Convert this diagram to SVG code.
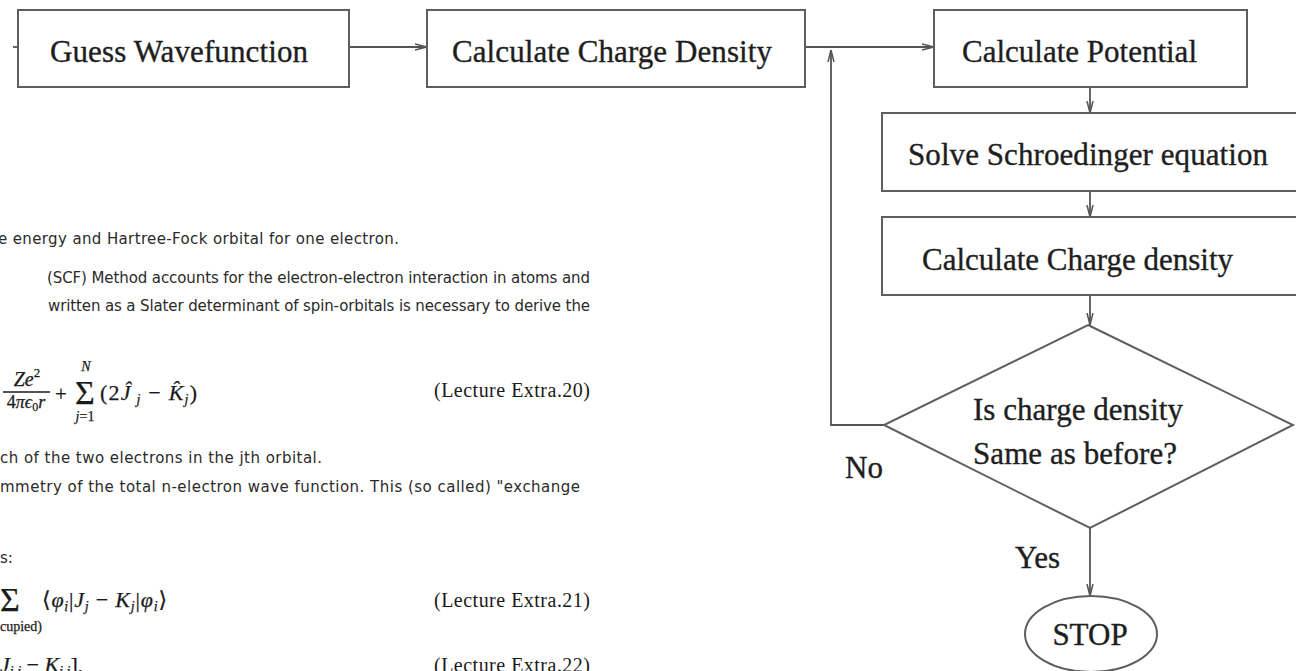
<svg xmlns="http://www.w3.org/2000/svg" width="1296" height="671" viewBox="0 0 1296 671">
  <defs>
    <style>
      .box { fill: #ffffff; stroke: #5e5e5e; stroke-width: 2; }
      .flow { font-family: "Liberation Serif", "Times New Roman", serif; font-size: 31px; fill: #1e1e1e; stroke: #1e1e1e; stroke-width: 0.35; }
      .link { fill: none; stroke: #555555; stroke-width: 1.8; }
      .prose { font-family: "DejaVu Sans", "Liberation Sans", sans-serif; font-size: 15px; fill: #2a2a2a; }
      .math { font-family: "Liberation Serif", "DejaVu Serif", serif; fill: #1a1a1a; stroke: #1a1a1a; stroke-width: 0.25; }
      .eqno { font-family: "Liberation Serif", "DejaVu Serif", serif; font-size: 20px; fill: #1a1a1a; }
      .it { font-style: italic; }
    </style>
    <marker id="open-arrow" viewBox="0 0 12 8" refX="12" refY="4" markerWidth="12" markerHeight="8" markerUnits="userSpaceOnUse" orient="auto">
      <path d="M0,1 L12,4 L0,7" fill="none" stroke="#555555" stroke-width="1.5"/>
    </marker>
  </defs>

  <rect width="1296" height="671" fill="#ffffff"/>

  <!-- body text of the page -->
  <g id="page-text">
    <text class="prose" x="-2" y="244" textLength="401" lengthAdjust="spacing">e energy and Hartree-Fock orbital for one electron.</text>
    <text class="prose" x="47" y="283" textLength="543" lengthAdjust="spacing">(SCF) Method accounts for the electron-electron interaction in atoms and</text>
    <text class="prose" x="48" y="311" textLength="542" lengthAdjust="spacing">written as a Slater determinant of spin-orbitals is necessary to derive the</text>
    <text class="prose" x="0" y="463" textLength="322" lengthAdjust="spacing">ch of the two electrons in the jth orbital.</text>
    <text class="prose" x="0" y="492" textLength="580" lengthAdjust="spacing">mmetry of the total n-electron wave function. This (so called) "exchange</text>
    <text class="prose" x="0" y="563">s:</text>
  </g>

  <!-- equation 20 -->
  <g id="eq-20">
    <text class="math it" x="27" y="386" text-anchor="middle" style="font-size:20px">Ze<tspan dy="-9" style="font-size:13px;font-style:normal">2</tspan></text>
    <line x1="3" y1="392" x2="50" y2="392" stroke="#1a1a1a" stroke-width="1.3"/>
    <text class="math" x="26" y="408" text-anchor="middle" style="font-size:18px">4<tspan class="it">πϵ</tspan><tspan style="font-size:12px" dy="3">0</tspan><tspan class="it" dy="-3">r</tspan></text>
    <text class="math" x="61" y="401" text-anchor="middle" style="font-size:21px">+</text>
    <text class="math" x="85" y="404" text-anchor="middle" style="font-size:34px">Σ</text>
    <text class="math it" x="86" y="371" text-anchor="middle" style="font-size:14px">N</text>
    <text class="math" x="85" y="421" text-anchor="middle" style="font-size:14px"><tspan class="it">j</tspan>=1</text>
    <text class="math" x="100" y="400" textLength="97" lengthAdjust="spacing" style="font-size:22px">(2<tspan class="it">Ĵ</tspan><tspan style="font-size:14px" class="it" dy="4"> j</tspan><tspan dy="-4"> − </tspan><tspan class="it">K̂</tspan><tspan style="font-size:14px" class="it" dy="4">j</tspan><tspan dy="-4">)</tspan></text>
    <text class="eqno" x="434" y="397" textLength="156" lengthAdjust="spacing">(Lecture Extra.20)</text>
  </g>

  <!-- equation 21 -->
  <g id="eq-21">
    <text class="math" x="10" y="611" text-anchor="middle" style="font-size:34px">Σ</text>
    <text class="math" x="0" y="631" style="font-size:14px">cupied)</text>
    <text class="math" x="42" y="607" textLength="125" lengthAdjust="spacing" style="font-size:22px"><tspan font-family="DejaVu Serif, DejaVu Sans, serif">⟨</tspan><tspan class="it">φ</tspan><tspan style="font-size:14px" class="it" dy="4">i</tspan><tspan dy="-4">|</tspan><tspan class="it">J</tspan><tspan style="font-size:14px" class="it" dy="4">j</tspan><tspan dy="-4"> − </tspan><tspan class="it">K</tspan><tspan style="font-size:14px" class="it" dy="4">j</tspan><tspan dy="-4">|</tspan><tspan class="it">φ</tspan><tspan style="font-size:14px" class="it" dy="4">i</tspan><tspan dy="-4" font-family="DejaVu Serif, DejaVu Sans, serif">⟩</tspan></text>
    <text class="eqno" x="434" y="607" textLength="156" lengthAdjust="spacing">(Lecture Extra.21)</text>
  </g>

  <!-- equation 22 -->
  <g id="eq-22">
    <text class="math" x="0" y="672" style="font-size:22px"><tspan class="it">J</tspan><tspan style="font-size:14px" class="it" dy="4">i,j</tspan><tspan dy="-4"> − </tspan><tspan class="it">K</tspan><tspan style="font-size:14px" class="it" dy="4">i,j</tspan><tspan dy="-4">],</tspan></text>
    <text class="eqno" x="434" y="672" textLength="156" lengthAdjust="spacing">(Lecture Extra.22)</text>
  </g>

  <!-- connectors -->
  <g id="connectors">
    <line class="link" x1="13" y1="47" x2="18" y2="47"/>
    <line class="link" x1="349" y1="47" x2="427" y2="47" marker-end="url(#open-arrow)"/>
    <line class="link" x1="805" y1="47" x2="934" y2="47" marker-end="url(#open-arrow)"/>
    <polyline class="link" points="884,425 831,425 831,50" marker-end="url(#open-arrow)"/>
    <line class="link" x1="1090" y1="87" x2="1090" y2="113" marker-end="url(#open-arrow)"/>
    <line class="link" x1="1090" y1="191" x2="1090" y2="217" marker-end="url(#open-arrow)"/>
    <line class="link" x1="1090" y1="295" x2="1090" y2="325" marker-end="url(#open-arrow)"/>
    <line class="link" x1="1090" y1="528" x2="1090" y2="596" marker-end="url(#open-arrow)"/>
  </g>

  <g id="guess-wavefunction">
    <rect class="box" x="18" y="10" width="331" height="77"/>
    <text class="flow" x="50" y="62" textLength="258" lengthAdjust="spacing">Guess Wavefunction</text>
  </g>

  <g id="calc-charge-density-1">
    <rect class="box" x="427" y="10" width="378" height="77"/>
    <text class="flow" x="452" y="62" textLength="320" lengthAdjust="spacing">Calculate Charge Density</text>
  </g>

  <g id="calc-potential">
    <rect class="box" x="934" y="10" width="313" height="77"/>
    <text class="flow" x="962" y="62" textLength="235" lengthAdjust="spacing">Calculate Potential</text>
  </g>

  <g id="solve-schroedinger">
    <rect class="box" x="882" y="113" width="420" height="78"/>
    <text class="flow" x="908" y="165" textLength="360" lengthAdjust="spacing">Solve Schroedinger equation</text>
  </g>

  <g id="calc-charge-density-2">
    <rect class="box" x="882" y="217" width="420" height="78"/>
    <text class="flow" x="922" y="270" textLength="311" lengthAdjust="spacing">Calculate Charge density</text>
  </g>

  <g id="converged-check">
    <polygon class="box" points="1088,325 1293,425 1090,528 884,425"/>
    <text class="flow" x="973" y="420" textLength="210" lengthAdjust="spacing">Is charge density</text>
    <text class="flow" x="973" y="464" textLength="204" lengthAdjust="spacing">Same as before?</text>
  </g>

  <g id="label-no">
    <text class="flow" x="845" y="478">No</text>
  </g>

  <g id="label-yes">
    <text class="flow" x="1015" y="568">Yes</text>
  </g>

  <g id="stop">
    <ellipse class="box" cx="1091" cy="634" rx="66" ry="38"/>
    <text class="flow" x="1090" y="645" text-anchor="middle">STOP</text>
  </g>
</svg>
